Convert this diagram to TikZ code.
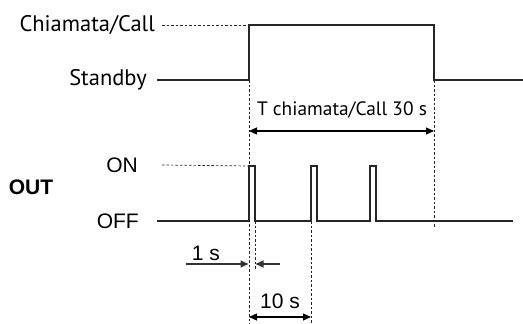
\documentclass[tikz,border=0pt]{standalone}
\usepackage{fontspec}
\setmainfont{Liberation Sans}
\newfontfamily\myrfont{PT Sans}
\usetikzlibrary{arrows.meta}
\begin{document}
\begin{tikzpicture}[x=1pt,y=-1pt,
  sig/.style={line width=1.6pt, draw=black!85, line join=miter},
  guide/.style={line width=0.7pt, dash pattern=on 2.5pt off 2pt, draw=black!85},
  dim/.style={line width=1.1pt, draw=black, {Triangle[length=8pt,width=7pt]}-{Triangle[length=8pt,width=7pt]}},
  arr/.style={line width=1.1pt, draw=black!80, -{Triangle[length=8pt,width=7pt]}},
  mlbl/.style={inner sep=0pt, font=\myrfont\fontsize{22.5}{26}\selectfont},
  albl/.style={inner sep=0pt, font=\fontsize{21}{25}\selectfont},
]
\useasboundingbox (0,0) rectangle (523,324);

% labels
\node[mlbl, anchor=east] (call) at (155,25) {Chiamata/Call};
\node[mlbl, anchor=east] (stby) at (147,80) {Standby};
\node[mlbl, font=\myrfont\fontsize{19.4}{23}\selectfont] (t30) at (342,110) {T chiamata/Call 30 s};
\node[albl, anchor=east] (on) at (138,165) {ON};
\node[albl, anchor=east] (off) at (139,221) {OFF};
\node[albl, font=\bfseries\fontsize{21}{25}\selectfont] (out) at (31,187) {OUT};
\node[albl] (s1) at (206,253) {1 s};
\node[albl] (s10) at (280,301) {10 s};

% key points
\coordinate (a1) at (249,80);
\coordinate (a2) at (249,25);
\coordinate (a3) at (434,25);
\coordinate (a4) at (434,80);
\coordinate (a5) at (523,80);
\coordinate (o1) at (249,221);
\coordinate (on1) at (249,166);
\coordinate (p1e) at (255,221);
\coordinate (p2s) at (311,221);
\coordinate (oend) at (513,221);

% call signal
\draw[sig] ([xshift=10pt]stby.east) -- (a1) -- (a2) -- (a3) -- (a4) -- (a5);

% output pulses
\draw[sig] ([xshift=18pt]off.east) -- (o1) -- (on1) -- (255,166) -- (p1e) -- (p2s)
  -- (311,166) -- (317,166) -- (317,221) -- (370,221) -- (370,166) -- (376,166)
  -- (376,221) -- (oend);

% guides
\draw[guide] ([xshift=7pt]call.east) -- (a2);
\draw[guide] ([xshift=24pt]on.east) -- (on1);
\draw[guide] (a1) -- (249,324);
\draw[guide] (a4) -- (434,228);
\draw[guide] (p1e) -- (255,269);
\draw[guide] (p2s) -- (311,324);

% dimensions
\draw[dim] (249,131) -- (434,131);
\draw[arr] (186,264) -- (248.5,264);
\draw[arr] (280,264) -- (255.5,264);
\draw[dim] (249,317) -- (311,317);
\end{tikzpicture}
\end{document}
